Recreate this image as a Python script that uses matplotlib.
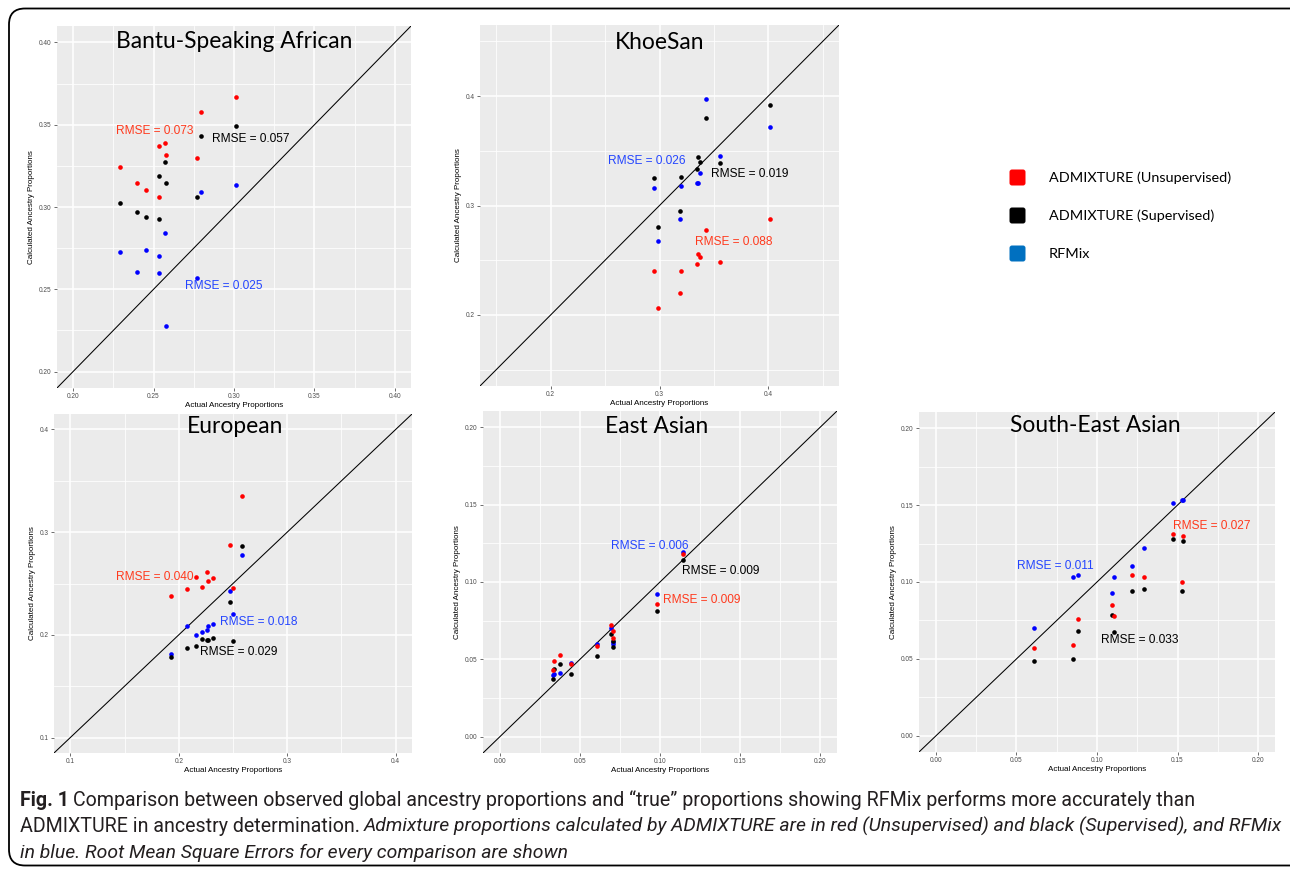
import numpy as np
import matplotlib
matplotlib.use("Agg")
import matplotlib.pyplot as plt
from matplotlib.patches import FancyBboxPatch
from matplotlib.ticker import FixedLocator, FormatStrFormatter

# ---- data (actual vs calculated ancestry proportions) ----
bantu_x = [0.229, 0.2398, 0.245, 0.2533, 0.2533, 0.2572, 0.2576, 0.2767, 0.2796, 0.3011]
bantu_unsup = [0.3243, 0.3147, 0.3103, 0.337, 0.3058, 0.3389, 0.3318, 0.3297, 0.358, 0.3667]
bantu_sup = [0.3025, 0.2971, 0.2938, 0.3188, 0.2926, 0.3271, 0.3145, 0.306, 0.3431, 0.3494]
bantu_rfmix = [0.2727, 0.2603, 0.2737, 0.2705, 0.2601, 0.2843, 0.2278, 0.2568, 0.3092, 0.3133]

khoesan_x = [0.2945, 0.2985, 0.319, 0.3202, 0.3347, 0.3353, 0.3374, 0.3429, 0.3552, 0.4012]
khoesan_unsup = [0.2401, 0.2067, 0.2201, 0.2401, 0.2465, 0.2559, 0.2526, 0.2775, 0.2486, 0.2878]
khoesan_sup = [0.3252, 0.2802, 0.2951, 0.3258, 0.3334, 0.3447, 0.3395, 0.3802, 0.3386, 0.3921]
khoesan_rfmix = [0.3158, 0.2678, 0.2881, 0.3179, 0.3204, 0.321, 0.3298, 0.3973, 0.345, 0.3717]

european_x = [0.1932, 0.2074, 0.2157, 0.2213, 0.2262, 0.2268, 0.2317, 0.2471, 0.2499, 0.2585]
european_unsup = [0.2382, 0.245, 0.2567, 0.247, 0.2612, 0.2525, 0.2554, 0.2878, 0.2457, 0.3351]
european_sup = [0.178, 0.1874, 0.1893, 0.1964, 0.1948, 0.1948, 0.1971, 0.2317, 0.1942, 0.2862]
european_rfmix = [0.1815, 0.2087, 0.1994, 0.2032, 0.2049, 0.2087, 0.2104, 0.2424, 0.2201, 0.2781]

east_x = [0.033, 0.034, 0.0373, 0.0446, 0.0609, 0.0694, 0.0707, 0.0707, 0.0984, 0.1146]
east_unsup = [0.0432, 0.0489, 0.0528, 0.0468, 0.0585, 0.072, 0.0686, 0.0641, 0.0859, 0.1179]
east_sup = [0.0372, 0.0436, 0.047, 0.0404, 0.0521, 0.0662, 0.062, 0.0581, 0.081, 0.1139]
east_rfmix = [0.04, 0.0404, 0.041, 0.0479, 0.0598, 0.0705, 0.0598, 0.0615, 0.0921, 0.1194]

se_x = [0.0607, 0.085, 0.0879, 0.1096, 0.1104, 0.122, 0.129, 0.1472, 0.1525, 0.1536]
se_unsup = [0.057, 0.0592, 0.076, 0.0853, 0.0779, 0.1046, 0.1033, 0.1311, 0.0999, 0.13]
se_sup = [0.0484, 0.0499, 0.068, 0.0784, 0.0674, 0.0941, 0.0954, 0.1277, 0.0941, 0.1268]
se_rfmix = [0.0698, 0.1031, 0.1044, 0.0928, 0.1033, 0.1107, 0.1221, 0.1511, 0.1531, 0.1533]

titles = ["Bantu-Speaking African", "KhoeSan", "European", "East Asian", "South-East Asian"]
rmse_unsup = ["0.073", "0.088", "0.040", "0.009", "0.027"]
rmse_sup = ["0.057", "0.019", "0.029", "0.009", "0.033"]
rmse_rfmix = ["0.025", "0.026", "0.018", "0.006", "0.011"]

legend_labels = ["ADMIXTURE (Unsupervised)", "ADMIXTURE (Supervised)", "RFMix"]
legend_colors = ["#FF0000", "#000000", "#0070C0"]

W, H = 1290, 869
RED, BLUE = "#FF0000", "#0000FF"
TXT_RED, TXT_BLUE = "#FF3A1E", "#2445FF"
TITLE_FONT = ["Lato", "DejaVu Sans"]
R_FONT = ["Liberation Sans", "DejaVu Sans"]

fig = plt.figure(figsize=(W / 100, H / 100), dpi=100)


def px_axes(l, t, r, b):
    return fig.add_axes([l / W, 1 - b / H, (r - l) / W, (b - t) / H])


# panel boxes in pixels: left, top, right, bottom
boxes = [(57, 26, 411, 388), (480, 25, 839, 386), (54, 414, 412, 753),
         (483, 411, 837, 753), (919, 412, 1275, 752)]
lims = [(0.19, 0.41), (0.135, 0.465), (0.085, 0.415), (-0.0105, 0.2105), (-0.0105, 0.2105)]
majors = [np.arange(0.20, 0.401, 0.05), [0.2, 0.3, 0.4], [0.1, 0.2, 0.3, 0.4],
          np.arange(0, 0.201, 0.05), np.arange(0, 0.201, 0.05)]
fmts = ["%.2f", "%.1f", "%.1f", "%.2f", "%.2f"]
xs = [bantu_x, khoesan_x, european_x, east_x, se_x]
unsup = [bantu_unsup, khoesan_unsup, european_unsup, east_unsup, se_unsup]
sup = [bantu_sup, khoesan_sup, european_sup, east_sup, se_sup]
rfm = [bantu_rfmix, khoesan_rfmix, european_rfmix, east_rfmix, se_rfmix]
title_pos = [(0.5, 0.957), (0.499, 0.951), (0.506, 0.963), (0.49, 0.956), (0.496, 0.96)]
# RMSE label centers in data units: unsup, sup, rfmix
lab_pos = [
    [(0.2508, 0.3462), (0.3105, 0.3411), (0.2939, 0.2520)],
    [(0.3684, 0.2663), (0.3834, 0.3292), (0.2883, 0.3410)],
    [(0.1778, 0.2560), (0.2554, 0.1832), (0.2739, 0.2130)],
    [(0.1260, 0.0885), (0.1378, 0.1073), (0.0933, 0.1233)],
    [(0.1711, 0.1363), (0.1263, 0.0624), (0.0743, 0.1107)],
]

for i in range(5):
    ax = px_axes(*boxes[i])
    ax.set_facecolor("#EBEBEB")
    for s in ax.spines.values():
        s.set_visible(False)
    lo, hi = lims[i]
    ax.set_xlim(lo, hi)
    ax.set_ylim(lo, hi)
    mj = np.array(majors[i])
    step = mj[1] - mj[0]
    mn = np.arange(mj[0] - step / 2, hi, step)
    for axis in (ax.xaxis, ax.yaxis):
        axis.set_major_locator(FixedLocator(mj))
        axis.set_minor_locator(FixedLocator(mn))
        axis.set_major_formatter(FormatStrFormatter(fmts[i]))
    ax.grid(True, which="major", color="white", lw=1.1)
    ax.grid(True, which="minor", color="white", lw=0.55)
    ax.set_axisbelow(True)
    ax.tick_params(which="major", length=2.2, width=0.5, color="#333333",
                   labelsize=4.7, labelcolor="#4D4D4D", pad=1.5)
    ax.tick_params(which="minor", length=0)
    for lab in ax.get_xticklabels() + ax.get_yticklabels():
        lab.set_family(R_FONT)
    ax.set_xlabel("Actual Ancestry Proportions", fontsize=5.8, family=R_FONT, labelpad=1)
    ax.set_ylabel("Calculated Ancestry Proportions", fontsize=5.8, family=R_FONT, labelpad=3)

    ax.axline((0, 0), slope=1, color="black", lw=0.75, zorder=2)
    ax.scatter(xs[i], rfm[i], s=11, color=BLUE, linewidths=0, zorder=3)
    ax.scatter(xs[i], sup[i], s=11, color="black", linewidths=0, zorder=3)
    ax.scatter(xs[i], unsup[i], s=11, color=RED, linewidths=0, zorder=3)

    for txt, col, pos in zip([rmse_unsup[i], rmse_sup[i], rmse_rfmix[i]],
                             [TXT_RED, "black", TXT_BLUE], lab_pos[i]):
        ax.text(pos[0], pos[1], "RMSE = " + txt, color=col, fontsize=8.6,
                family=R_FONT, ha="center", va="center", zorder=4)

    tx, ty = title_pos[i]
    ax.text(tx, ty, titles[i], transform=ax.transAxes, fontsize=16.4,
            family=TITLE_FONT, ha="center", va="center", zorder=5)

# overlay in pixel units for border, legend and caption
ov = fig.add_axes([0, 0, 1, 1])
ov.set_xlim(0, W)
ov.set_ylim(H, 0)
ov.axis("off")
ov.patch.set_visible(False)

ov.add_patch(FancyBboxPatch((9, 8.5), 1300, 857, boxstyle="round,pad=0,rounding_size=16",
                            fill=False, ec="black", lw=1.3))

for k, (lab, col) in enumerate(zip(legend_labels, legend_colors)):
    yc = 177.5 + k * 38
    ov.add_patch(FancyBboxPatch((1009.5, yc - 8), 16, 16, boxstyle="round,pad=0,rounding_size=2.5",
                                fc=col, ec="none"))
    ov.text(1049, yc, lab, fontsize=10.4, family=TITLE_FONT, va="center", ha="left")

CAP_FONT = ["Roboto", "DejaVu Sans"]
cap_size = 14.1
ital_size = 13.93
renderer = fig.canvas.get_renderer()


def runs(x, y, parts):
    for s, weight, style in parts:
        size = ital_size if style == "italic" else cap_size
        t = ov.text(x, y, s, fontsize=size, family=CAP_FONT, fontweight=weight,
                    fontstyle=style, va="baseline", ha="left", color="#231F20")
        bb = t.get_window_extent(renderer)
        x += bb.width + cap_size * 0.28


runs(20, 806, [("Fig. 1", "bold", "normal"),
               ("Comparison between observed global ancestry proportions and \u201ctrue\u201d proportions "
                "showing RFMix performs more accurately than", "normal", "normal")])
runs(20, 832, [("ADMIXTURE in ancestry determination.", "normal", "normal"),
               ("Admixture proportions calculated by ADMIXTURE are in red (Unsupervised) and black "
                "(Supervised), and RFMix", "normal", "italic")])
runs(20, 858, [("in blue. Root Mean Square Errors for every comparison are shown", "normal", "italic")])

fig.savefig("out.png", dpi=100)
